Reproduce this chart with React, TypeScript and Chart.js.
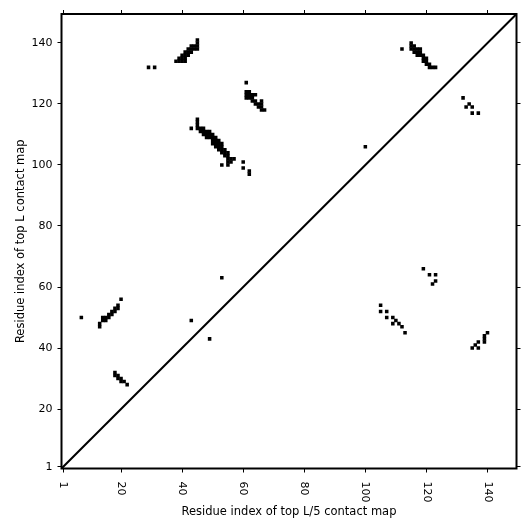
import React, { useEffect, useRef } from "react";
import { Chart, registerables } from "chart.js";

Chart.register(...registerables);

const AXIS_MIN = 0.5;
const AXIS_MAX = 149.5;
const TICKS = [1, 20, 40, 60, 80, 100, 120, 140];
const X_TITLE = "Residue index of top L/5 contact map";
const Y_TITLE = "Residue index of top L contact map";

// upper triangle (top L contacts)
const clusterA = [[38,134],[39,134],[40,134],[41,134],[39,135],[40,135],[41,135],[40,136],[41,136],[42,136],[41,137],[42,137],[43,137],[42,138],[43,138],[44,138],[45,138],[43,139],[44,139],[45,139],[45,140],[45,141]];
const clusterB = [[45,115],[45,114],[45,113],[45,112],[46,112],[47,112],[46,111],[47,111],[48,111],[49,111],[47,110],[48,110],[49,110],[50,110],[48,109],[49,109],[50,109],[51,109],[50,108],[51,108],[52,108],[50,107],[51,107],[52,107],[53,107],[51,106],[52,106],[53,106],[52,105],[53,105],[54,105],[53,104],[54,104],[55,104],[54,103],[55,103],[55,102],[56,102],[55,101],[57,102],[56,101],[55,100]];
const clusterB2 = [[61,124],[62,124],[61,123],[62,123],[61,122],[62,122],[63,123],[64,123],[63,122],[63,121],[64,121],[64,120],[65,120],[66,121],[66,120],[65,119],[66,119],[66,118],[67,118]];
const clusterC = [[115,140],[115,139],[116,139],[115,138],[116,138],[117,138],[118,138],[116,137],[117,137],[118,137],[117,136],[118,136],[119,136],[119,135],[120,135],[119,134],[120,134],[120,133],[121,133],[121,132],[122,132],[123,132]];
const upperScattered = [[29,132],[31,132],[43,112],[53,100],[60,101],[60,99],[62,98],[62,97],[61,127],[100,106],[112,138],[132,122],[133,119],[134,120],[135,119],[135,117],[137,117]];

// lower triangle (top L/5 contacts)
const lowerLeft = [[7,50],[13,47],[13,48],[14,49],[14,50],[15,50],[15,49],[16,50],[16,51],[17,51],[17,52],[18,52],[18,53],[19,53],[19,54],[20,56]];
const lowerLeft2 = [[18,32],[18,31],[19,31],[19,30],[20,30],[20,29],[21,29],[22,28]];
const lowerMid = [[43,49],[49,43],[53,63]];
const lowerRight = [[105,54],[105,52],[107,52],[107,50],[109,50],[110,49],[109,48],[111,48],[112,47],[113,45]];
const lowerRight2 = [[119,66],[121,64],[123,64],[123,62],[122,61]];
const lowerRight3 = [[140,45],[139,44],[139,43],[139,42],[137,42],[136,41],[135,40],[137,40]];

const DIAG = [AXIS_MIN, AXIS_MAX];

const FONT = "'DejaVu Sans', sans-serif";

function tickBuilder(s: any) {
  s.ticks = TICKS.map((v) => ({ value: v }));
}

export default function App() {
  const ref = useRef<HTMLCanvasElement | null>(null);

  useEffect(() => {
    document.body.style.margin = "0";
    const canvas = ref.current;
    if (!canvas) return;
    Chart.defaults.font.family = FONT;

    const allPoints = [
      ...clusterA, ...clusterB, ...clusterB2, ...clusterC, ...upperScattered,
      ...lowerLeft, ...lowerLeft2, ...lowerMid, ...lowerRight, ...lowerRight2, ...lowerRight3,
    ].map(([x, y]) => ({ x, y }));

    const overlay = {
      id: "overlay",
      afterDraw(chart: any) {
        const ctx = chart.ctx;
        const a = chart.chartArea;
        const xs = chart.scales.x;
        ctx.save();
        ctx.strokeStyle = "#000";
        ctx.lineWidth = 2;
        ctx.strokeRect(a.left, a.top, a.right - a.left, a.bottom - a.top);
        ctx.fillStyle = "#000";
        ctx.font = `11px ${FONT}`;
        for (const v of TICKS) {
          const px = xs.getPixelForValue(v);
          ctx.save();
          ctx.translate(px, a.bottom + 13);
          ctx.rotate(Math.PI / 2);
          ctx.textAlign = "left";
          ctx.textBaseline = "middle";
          ctx.fillText(String(v), 0, 0);
          ctx.restore();
        }
        ctx.font = `11.5px ${FONT}`;
        ctx.textAlign = "center";
        ctx.textBaseline = "alphabetic";
        ctx.fillText(X_TITLE, (a.left + a.right) / 2, 514.5);
        ctx.save();
        ctx.translate(24, (a.top + a.bottom) / 2);
        ctx.rotate(-Math.PI / 2);
        ctx.fillText(Y_TITLE, 0, 0);
        ctx.restore();
        ctx.restore();
      },
    };

    const gridOpts = {
      display: true,
      drawOnChartArea: false,
      drawTicks: true,
      tickLength: 4,
      color: "#000",
      lineWidth: 1,
    };

    const chart = new Chart(canvas, {
      type: "scatter",
      data: {
        datasets: [
          {
            data: allPoints,
            pointStyle: "rect",
            pointRadius: 2.5,
            pointBorderWidth: 0,
            backgroundColor: "#000",
            borderColor: "#000",
            showLine: false,
          },
          {
            data: DIAG.map((v) => ({ x: v, y: v })),
            showLine: true,
            borderColor: "#000",
            borderWidth: 2,
            pointRadius: 0,
          },
        ],
      },
      options: {
        animation: false,
        responsive: false,
        devicePixelRatio: 1,
        layout: { padding: 0 },
        plugins: { legend: { display: false }, tooltip: { enabled: false } },
        scales: {
          x: {
            type: "linear",
            position: "bottom",
            min: AXIS_MIN,
            max: AXIS_MAX,
            afterBuildTicks: tickBuilder,
            afterFit: (s: any) => { s.height = 62.5; },
            grid: gridOpts,
            border: { display: false },
            ticks: { display: false },
          },
          x2: {
            type: "linear",
            axis: "x",
            position: "top",
            min: AXIS_MIN,
            max: AXIS_MAX,
            afterBuildTicks: tickBuilder,
            afterFit: (s: any) => { s.height = 14; },
            grid: gridOpts,
            border: { display: false },
            ticks: { display: false },
          },
          y: {
            type: "linear",
            position: "left",
            min: AXIS_MIN,
            max: AXIS_MAX,
            afterBuildTicks: tickBuilder,
            afterFit: (s: any) => { s.width = 61.5; },
            grid: gridOpts,
            border: { display: false },
            ticks: {
              display: true,
              autoSkip: false,
              padding: 5,
              color: "#000",
              font: { size: 11, family: FONT },
              callback: (v: any) => String(v),
            },
          },
          y2: {
            type: "linear",
            axis: "y",
            position: "right",
            min: AXIS_MIN,
            max: AXIS_MAX,
            afterBuildTicks: tickBuilder,
            afterFit: (s: any) => { s.width = 14.5; },
            grid: gridOpts,
            border: { display: false },
            ticks: { display: false },
          },
        },
      },
      plugins: [overlay],
    } as any);

    return () => chart.destroy();
  }, []);

  return (
    <div style={{ width: 531, height: 531 }}>
      <canvas ref={ref} width={531} height={531} />
    </div>
  );
}
